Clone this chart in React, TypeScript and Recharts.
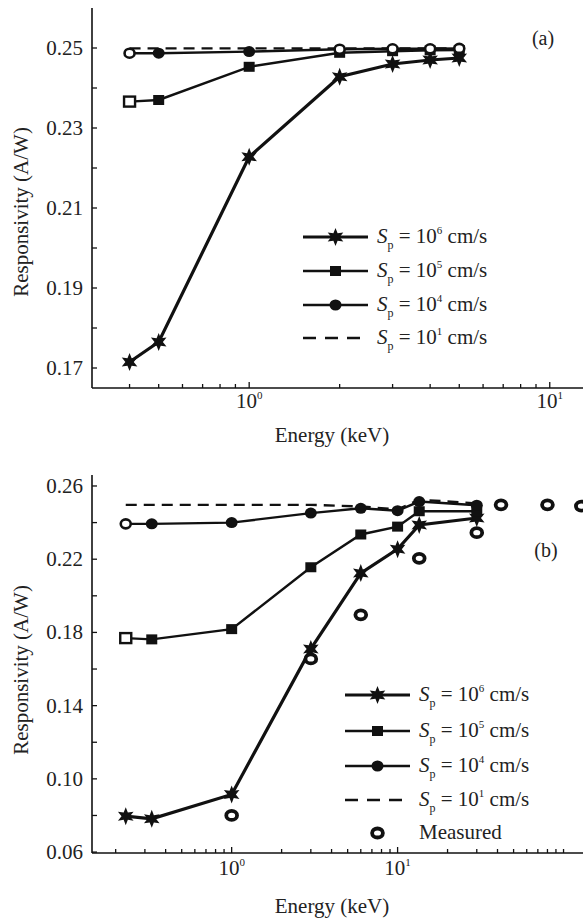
import React from "react";
import {
  ComposedChart,
  Line,
  Scatter,
  XAxis,
  YAxis,
  ReferenceArea,
  Label,
} from "recharts";

// ---- panel (a) data ----
const energyA = [0.4, 0.5, 1, 2, 3, 4, 5];
const sp6A = [0.1715, 0.1765, 0.2228, 0.2428, 0.246, 0.247, 0.2475];
const sp5A = [0.2366, 0.237, 0.2453, 0.2488, 0.2492, 0.2494, 0.2495];
const sp4A = [0.2487, 0.2487, 0.2491, 0.2497, 0.2498, 0.2498, 0.2499];
const sp1A = [0.2499, 0.2499, 0.2499, 0.2499, 0.2499, 0.2499, 0.2499];

// ---- panel (b) data ----
const energyB = [0.23, 0.33, 1, 3, 6, 10, 13.5, 30];
const sp6B = [0.0796, 0.0782, 0.0915, 0.171, 0.2124, 0.2255, 0.2387, 0.2425];
const sp5B = [0.1769, 0.1762, 0.1818, 0.2156, 0.2335, 0.2378, 0.2462, 0.2462];
const sp4B = [0.2393, 0.2393, 0.24, 0.2452, 0.2478, 0.2465, 0.2515, 0.2495];
const sp1B = [0.2497, 0.2497, 0.2497, 0.2497, 0.2488, 0.2472, 0.2525, 0.2505];
const measuredEnergyB = [1, 3, 6, 13.5, 30, 42, 80, 128];
const measuredB = [0.08, 0.1655, 0.1896, 0.2205, 0.2345, 0.2497, 0.2497, 0.249];

// ---- ticks ----
const xTicksA = [0.4, 0.5, 0.6, 0.7, 0.8, 0.9, 1, 2, 3, 4, 5, 6, 7, 8, 9, 10];
const xTicksB = [
  0.2, 0.3, 0.4, 0.5, 0.6, 0.7, 0.8, 0.9, 1, 2, 3, 4, 5, 6, 7, 8, 9, 10, 20,
  30, 40, 50, 60, 70, 80, 90, 100,
];
const xMajors = [1, 10];
const yTicksA = [0.17, 0.18, 0.19, 0.2, 0.21, 0.22, 0.23, 0.24, 0.25];
const yMajorsA = [0.17, 0.19, 0.21, 0.23, 0.25];
const yTicksB = [0.06, 0.08, 0.1, 0.12, 0.14, 0.16, 0.18, 0.2, 0.22, 0.24, 0.26];
const yMajorsB = [0.06, 0.1, 0.14, 0.18, 0.22, 0.26];

const legendExp = ["6", "5", "4", "1"];

const FONT = "Liberation Serif, DejaVu Serif";
const INK = "#111";

const toRows = (xs: number[], ys: number[]) =>
  xs.map((x, i) => ({ x, y: ys[i] }));

const isIn = (list: number[], v: number) =>
  list.some((m) => Math.abs(m - v) < 1e-9);

// six-pointed star marker
const starPoints = (cx: number, cy: number, ro: number, ri: number) => {
  const pts: string[] = [];
  for (let i = 0; i < 12; i++) {
    const r = i % 2 === 0 ? ro : ri;
    const a = (Math.PI / 6) * i - Math.PI / 2;
    pts.push(`${cx + r * Math.cos(a)},${cy + r * Math.sin(a)}`);
  }
  return pts.join(" ");
};

const Marker = ({
  kind,
  cx,
  cy,
  hollow = false,
}: {
  kind: string;
  cx: number;
  cy: number;
  hollow?: boolean;
}) => {
  if (kind === "star")
    return <polygon points={starPoints(cx, cy, 9, 4.2)} fill={INK} />;
  if (kind === "square")
    return (
      <rect
        x={cx - 5.5}
        y={cy - 5}
        width={11}
        height={10}
        fill={hollow ? "#fff" : INK}
        stroke={INK}
        strokeWidth={hollow ? 2.4 : 0}
      />
    );
  if (kind === "circle")
    return (
      <ellipse
        cx={cx}
        cy={cy}
        rx={hollow ? 5 : 6}
        ry={hollow ? 4.5 : 5.5}
        fill={hollow ? "#fff" : INK}
        stroke={INK}
        strokeWidth={hollow ? 2.6 : 0}
      />
    );
  if (kind === "ring")
    return (
      <ellipse
        cx={cx}
        cy={cy}
        rx={5.4}
        ry={4.5}
        fill="#fff"
        stroke={INK}
        strokeWidth={3.8}
      />
    );
  return null;
};

const makeDot =
  (kind: string, hollowIdx: number[] = []) =>
  (p: any) =>
    (
      <Marker
        key={`${kind}-${p.index}`}
        kind={kind}
        cx={p.cx}
        cy={p.cy}
        hollow={hollowIdx.includes(p.index)}
      />
    );

const XTick = (props: any) => {
  const { x, y, payload, labelDy } = props;
  const v = payload.value;
  const major = isIn(xMajors, v);
  return (
    <g>
      <line x1={x} x2={x} y1={y} y2={y - (major ? 6 : 4)} stroke={INK} strokeWidth={1.3} />
      {major && (
        <text
          x={x}
          y={y + labelDy}
          textAnchor="middle"
          fontSize={21}
          fontFamily={FONT}
          fill="#222"
        >
          10
          <tspan dy={-9} fontSize={11}>
            {Math.round(Math.log10(v))}
          </tspan>
        </text>
      )}
    </g>
  );
};

const YTick = (props: any) => {
  const { x, y, payload, majors } = props;
  const v = payload.value;
  const major = isIn(majors, v);
  return (
    <g>
      <line x1={x} x2={x + 5} y1={y} y2={y} stroke={INK} strokeWidth={1.3} />
      {major && (
        <text
          x={x - 9}
          y={y + 7}
          textAnchor="end"
          fontSize={21}
          fontFamily={FONT}
          fill="#222"
        >
          {v.toFixed(2)}
        </text>
      )}
    </g>
  );
};

interface PanelProps {
  top: number;
  height: number;
  marginTop: number;
  xHeight: number;
  xDomain: [number, number];
  yDomain: [number, number];
  xTicks: number[];
  yTicks: number[];
  yMajors: number[];
  series: { kind: string; data: { x: number; y: number }[]; hollow: number[] }[];
  dashed: { x: number; y: number }[];
  measured?: { x: number; y: number }[];
  xLabelBaseline: number;
  xTickDy: number;
  yLabelCenter: number;
  tag: string;
  tagPos: [number, number];
  legendRows: number[];
  legendLine: [number, number];
}

const Panel = (p: PanelProps) => (
  <div style={{ position: "absolute", left: 0, top: p.top }}>
    <ComposedChart
      width={585}
      height={p.height}
      margin={{ top: p.marginTop, right: 2, left: 0, bottom: 0 }}
    >
      <XAxis
        dataKey="x"
        type="number"
        scale="log"
        domain={p.xDomain}
        allowDataOverflow
        ticks={p.xTicks}
        interval={0}
        height={p.xHeight}
        tickSize={0}
        tickMargin={0}
        tickLine={false}
        axisLine={{ stroke: INK, strokeWidth: 1.6 }}
        tick={<XTick labelDy={p.xTickDy} />}
      >
        <Label
          content={() => (
            <text
              x={332}
              y={p.xLabelBaseline}
              textAnchor="middle"
              fontSize={21}
              fontFamily={FONT}
              fill="#222"
            >
              Energy (keV)
            </text>
          )}
        />
      </XAxis>
      <YAxis
        type="number"
        domain={p.yDomain}
        allowDataOverflow
        ticks={p.yTicks}
        interval={0}
        width={92}
        tickSize={0}
        tickMargin={0}
        tickLine={false}
        axisLine={{ stroke: INK, strokeWidth: 1.6 }}
        tick={<YTick majors={p.yMajors} />}
      >
        <Label
          content={() => (
            <text
              transform={`translate(21,${p.yLabelCenter}) rotate(-90)`}
              textAnchor="middle"
              dominantBaseline="central"
              fontSize={21}
              fontFamily={FONT}
              fill="#222"
            >
              Responsivity (A/W)
            </text>
          )}
        />
      </YAxis>
      <ReferenceArea fill="none" stroke={INK} strokeWidth={1.6} fillOpacity={0} />
      {p.series.map((s) => (
        <Line
          key={s.kind}
          data={s.data}
          dataKey="y"
          type="linear"
          stroke={INK}
          strokeWidth={s.kind === "star" ? 3.2 : 2.4}
          dot={makeDot(s.kind, s.hollow)}
          activeDot={false}
          legendType="none"
          isAnimationActive={false}
        />
      ))}
      <Line
        data={p.dashed}
        dataKey="y"
        type="linear"
        stroke={INK}
        strokeWidth={2.4}
        strokeDasharray="11 7"
        dot={false}
        activeDot={false}
        isAnimationActive={false}
      />
      {p.measured && (
        <Scatter
          data={p.measured}
          dataKey="y"
          shape={(s: any) => <Marker kind="ring" cx={s.cx} cy={s.cy} />}
          isAnimationActive={false}
        />
      )}
    </ComposedChart>
    {/* legend + panel tag */}
    <svg
      width={585}
      height={p.height}
      style={{ position: "absolute", left: 0, top: 0, pointerEvents: "none" }}
    >
      <text
        x={p.tagPos[0]}
        y={p.tagPos[1]}
        textAnchor="middle"
        fontSize={20}
        fontFamily={FONT}
        fill="#222"
      >
        {p.tag}
      </text>
      {legendExp.map((e, i) => {
        const y = p.legendRows[i];
        const [x1, x2] = p.legendLine;
        const kind = ["star", "square", "circle", "dash"][i];
        return (
          <g key={e}>
            <line
              x1={x1}
              x2={x2}
              y1={y}
              y2={y}
              stroke={INK}
              strokeWidth={kind === "star" ? 3.2 : 2.6}
              strokeDasharray={kind === "dash" ? "13 9" : undefined}
            />
            <Marker kind={kind} cx={(x1 + x2) / 2} cy={y} />
            <text x={x2 + 9} y={y + 6} fontSize={21} fontFamily={FONT} fill="#222">
              <tspan fontStyle="italic">S</tspan>
              <tspan dy={6} fontSize={12}>
                p
              </tspan>
              <tspan dy={-6}> = 10</tspan>
              <tspan dy={-9} fontSize={11}>
                {e}
              </tspan>
              <tspan dy={9}> cm/s</tspan>
            </text>
          </g>
        );
      })}
      {p.measured && (
        <g>
          <Marker kind="ring" cx={(p.legendLine[0] + p.legendLine[1]) / 2} cy={p.legendRows[4]} />
          <text
            x={p.legendLine[1] + 9}
            y={p.legendRows[4] + 6}
            fontSize={21}
            fontFamily={FONT}
            fill="#222"
          >
            Measured
          </text>
        </g>
      )}
    </svg>
  </div>
);

export default function App() {
  return (
    <div
      style={{
        position: "absolute",
        left: 0,
        top: 0,
        width: 585,
        height: 919,
        background: "#fff",
        overflow: "hidden",
        fontFamily: FONT,
      }}
    >
      <Panel
        top={0}
        height={460}
        marginTop={8}
        xHeight={72}
        xDomain={[0.3, 12.9]}
        yDomain={[0.165, 0.26]}
        xTicks={xTicksA}
        yTicks={yTicksA}
        yMajors={yMajorsA}
        series={[
          { kind: "star", data: toRows(energyA, sp6A), hollow: [] },
          { kind: "square", data: toRows(energyA, sp5A), hollow: [0] },
          { kind: "circle", data: toRows(energyA, sp4A), hollow: [0, 3, 4, 5, 6] },
        ]}
        dashed={toRows(energyA, sp1A)}
        xLabelBaseline={442}
        xTickDy={20}
        yLabelCenter={212}
        tag="(a)"
        tagPos={[543, 45]}
        legendRows={[237, 271, 305, 338]}
        legendLine={[303, 368]}
      />
      <Panel
        top={460}
        height={459}
        marginTop={15}
        xHeight={66}
        xDomain={[0.144, 131]}
        yDomain={[0.0595, 0.266]}
        xTicks={xTicksB}
        yTicks={yTicksB}
        yMajors={yMajorsB}
        series={[
          { kind: "star", data: toRows(energyB, sp6B), hollow: [] },
          { kind: "square", data: toRows(energyB, sp5B), hollow: [0] },
          { kind: "circle", data: toRows(energyB, sp4B), hollow: [0] },
        ]}
        dashed={toRows(energyB, sp1B)}
        measured={toRows(measuredEnergyB, measuredB)}
        xLabelBaseline={453}
        xTickDy={22}
        yLabelCenter={210}
        tag="(b)"
        tagPos={[546, 97]}
        legendRows={[235, 271, 306, 340, 373]}
        legendLine={[345, 410]}
      />
    </div>
  );
}
